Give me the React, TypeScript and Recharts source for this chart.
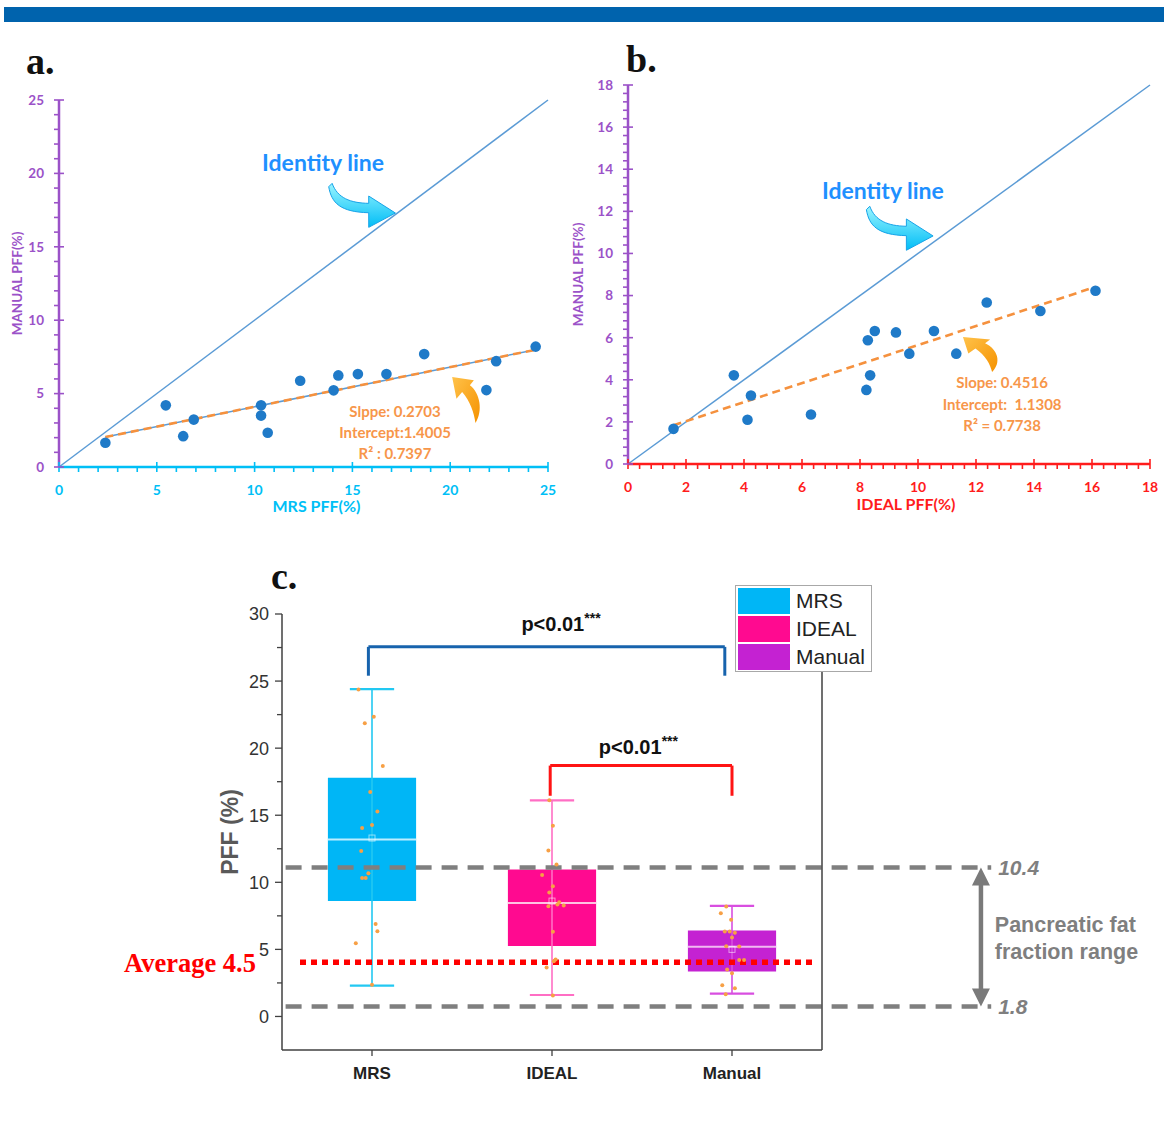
import React from 'react';
import {
  ScatterChart,
  ComposedChart,
  Scatter,
  XAxis,
  YAxis,
  ReferenceLine,
  ReferenceArea,
  ReferenceDot,
} from 'recharts';

// ---------- panels a / b : paired PFF (%) per subject ----------
const mrsPff = [2.37, 5.46, 6.35, 6.89, 10.33, 10.33, 10.67, 12.33, 14.04, 14.28, 15.28, 16.74, 18.67, 21.85, 22.35, 24.37];
const manualVsMrs = [1.65, 4.2, 2.1, 3.23, 4.2, 3.5, 2.33, 5.88, 5.22, 6.24, 6.33, 6.33, 7.69, 5.24, 7.21, 8.2];
const idealPff = [1.57, 3.65, 4.12, 4.24, 6.31, 8.22, 8.27, 8.35, 8.51, 9.24, 9.7, 10.55, 11.32, 12.37, 14.22, 16.12];
const manualVsIdeal = [1.67, 4.21, 2.1, 3.25, 2.35, 3.52, 5.88, 4.21, 6.32, 6.25, 5.24, 6.32, 5.24, 7.67, 7.27, 8.23];

const aMajorTicks = [0, 5, 10, 15, 20, 25];
const bMajorTicks = [0, 2, 4, 6, 8, 10, 12, 14, 16, 18];

const fitA = { slope: 0.2703, intercept: 1.4005 };
const fitB = { slope: 0.4516, intercept: 1.1308 };
const fitTextA = ['Slppe: 0.2703', 'Intercept:1.4005', 'R² : 0.7397'];
const fitTextB = ['Slope: 0.4516', 'Intercept:  1.1308', 'R² = 0.7738'];

// ---------- panel c : box plot ----------
const groups = ['MRS', 'IDEAL', 'Manual'];
const boxMin = [2.3, 1.6, 1.7];
const boxQ1 = [8.6, 5.25, 3.35];
const boxMedian = [13.2, 8.45, 5.2];
const boxQ3 = [17.8, 10.95, 6.4];
const boxMax = [24.4, 16.1, 8.25];
const boxMean = [13.3, 8.6, 5.0];
// horizontal jitter of the raw points (fraction of a category), same order as the value arrays
const jitterMrs = [0, -0.09, 0.03, 0.02, -0.055, -0.035, -0.02, -0.06, -0.055, 0, 0.03, -0.01, 0.06, -0.04, 0.01, -0.075];
const jitterIdeal = [0.005, -0.03, 0.01, 0.02, 0.005, -0.02, 0.065, 0.03, 0.04, -0.015, 0.005, -0.055, 0.025, -0.02, 0.005, -0.015];
const jitterManual = [-0.035, 0.067, 0.016, 0, 0.04, -0.027, -0.054, 0, 0.04, 0.016, -0.04, -0.013, -0.062, -0.032, -0.005, -0.032];
const cMajorTicks = [0, 5, 10, 15, 20, 25, 30];
const rangeLines = [11.1, 0.75];
const rangeLabels = ['10.4', '1.8'];
const averageValue = 4.04;
const bracketLeft = [0.48, 1.49];
const bracketRight = [2.46, 2.5];
const bracketTop = [27.55, 18.7];
const bracketFoot = [25.4, 16.45];

const boxColors = ['#00b6f6', '#ff0a90', '#c422d2'];
const whiskerColors = ['#22c8f2', '#ff6ec4', '#d84ee0'];
const medianColors = ['#bdeeff', '#ffc2e2', '#f2b8f2'];

const LATO = "Lato, 'Open Sans', sans-serif";
const ARIAL = "'Liberation Sans', Arial, sans-serif";
const NARROW = "'Liberation Sans Narrow', 'Liberation Sans', Arial, sans-serif";
const SERIF = "'Liberation Serif', 'Times New Roman', serif";

const withMinor = (majors: number[], parts: number) => {
  const out: number[] = [];
  for (let i = 0; i < majors.length - 1; i++) {
    const step = (majors[i + 1] - majors[i]) / parts;
    for (let k = 0; k < parts; k++) out.push(+(majors[i] + k * step).toFixed(4));
  }
  out.push(majors[majors.length - 1]);
  return out;
};
const isMajor = (v: number, majors: number[]) => majors.some((m) => Math.abs(m - v) < 1e-6);

// ---------- tick renderers ----------
const ScatterYTick = (p: any) => {
  const major = isMajor(p.payload.value, p.majors);
  return (
    <g>
      <line x1={p.x - 5} x2={major ? p.x + 5 : p.x} y1={p.y} y2={p.y} stroke={p.color} strokeWidth={1.6} />
      {major && (
        <text x={p.x - 15} y={p.y} dy="0.36em" textAnchor="end" fill={p.color} fontSize={13.5} fontWeight={700} fontFamily={LATO}>
          {p.payload.value}
        </text>
      )}
    </g>
  );
};

const ScatterXTick = (p: any) => {
  const major = isMajor(p.payload.value, p.majors);
  return (
    <g>
      <line x1={p.x} x2={p.x} y1={major ? p.y - 5 : p.y} y2={p.y + 5} stroke={p.color} strokeWidth={1.6} />
      {major && (
        <text x={p.x} y={p.y + 23} dy="0.36em" textAnchor="middle" fill={p.color} fontSize={14} fontWeight={700} fontFamily={LATO}>
          {p.payload.value}
        </text>
      )}
    </g>
  );
};

const BoxYTick = (p: any) => {
  const major = isMajor(p.payload.value, cMajorTicks);
  return (
    <g>
      <line x1={p.x - (major ? 7 : 5)} x2={p.x} y1={p.y} y2={p.y} stroke="#404040" strokeWidth={1.3} />
      {major && (
        <text x={p.x - 13} y={p.y} dy="0.36em" textAnchor="end" fill="#333" fontSize={18} fontFamily={NARROW}>
          {p.payload.value}
        </text>
      )}
    </g>
  );
};

const BoxRightTick = (p: any) => {
  const major = isMajor(p.payload.value, cMajorTicks);
  return <line x1={p.x - (major ? 7 : 4)} x2={p.x} y1={p.y} y2={p.y} stroke="#404040" strokeWidth={1.3} />;
};

const BoxXTick = (p: any) => (
  <g>
    <line x1={p.x} x2={p.x} y1={p.y} y2={p.y + 6} stroke="#404040" strokeWidth={1.3} />
    <text x={p.x} y={p.y + 23} dy="0.36em" textAnchor="middle" fill="#222" fontSize={17} fontWeight={700} fontFamily={ARIAL}>
      {groups[Math.floor(p.payload.value)]}
    </text>
  </g>
);

// ---------- decorative arrows ----------
const CyanArrow = ({ cx, cy, id }: any) => (
  <g transform={`translate(${cx},${cy})`}>
    <defs>
      <linearGradient id={id} x1="0" y1="0" x2="0" y2="1">
        <stop offset="0" stopColor="#9af5ff" />
        <stop offset="1" stopColor="#00bdf6" />
      </linearGradient>
    </defs>
    <path
      d="M -66.7 -26.3 C -64 -10 -55 -1 -26.7 -0.3 L -26.7 14.3 L 0 0 L -26.7 -17 L -26.7 -9.7 C -45 -10 -58 -15 -63.3 -29.7 Z"
      fill={`url(#${id})`}
      stroke="#17a3e8"
      strokeWidth={1}
    />
  </g>
);

const OrangeArrow = ({ cx, cy, id, sx = 1, sy = 1 }: any) => (
  <g transform={`translate(${cx},${cy}) scale(${sx},${sy})`}>
    <defs>
      <linearGradient id={id} x1="0" y1="0" x2="1" y2="1">
        <stop offset="0" stopColor="#ffc24a" />
        <stop offset="1" stopColor="#f59200" />
      </linearGradient>
    </defs>
    <path d="M 0 0 L 21.7 3.3 L 17.7 8.3 C 28 16 31 34 23.3 46 C 22 36 18 24 10 15 L 4.3 21.7 Z" fill={`url(#${id})`} />
  </g>
);

// ---------- scatter panel (a, b) ----------
type PanelCfg = {
  key: string;
  left: number;
  top: number;
  width: number;
  height: number;
  margin: { top: number; right: number; bottom: number; left: number };
  xAxisHeight: number;
  xs: number[];
  ys: number[];
  xMajors: number[];
  yMajors: number[];
  xColor: string;
  yColor: string;
  xTitle: string;
  yTitle: string;
  xTitleShift: number;
  yTitleOffset: number;
  fit: { slope: number; intercept: number };
  fitText: string[];
  fitTextAt: [number, number];
  fitLineGap: number;
  idTextAt: [number, number];
  idArrowAt: [number, number];
  fitArrowAt: [number, number];
  fitArrowScale: [number, number];
  blueUnderFit: boolean;
};

const ScatterPanel = ({ cfg }: { cfg: PanelCfg }) => {
  const points = cfg.xs.map((x, i) => ({ x, y: cfg.ys[i] }));
  const xLo = Math.min(...cfg.xs);
  const xHi = Math.max(...cfg.xs);
  const fitSeg = [
    { x: xLo, y: cfg.fit.intercept + cfg.fit.slope * xLo },
    { x: xHi, y: cfg.fit.intercept + cfg.fit.slope * xHi },
  ];
  const xMax = cfg.xMajors[cfg.xMajors.length - 1];
  const yMax = cfg.yMajors[cfg.yMajors.length - 1];
  return (
    <div style={{ position: 'absolute', left: cfg.left, top: cfg.top }}>
      <ScatterChart width={cfg.width} height={cfg.height} margin={cfg.margin}>
        <XAxis
          type="number"
          dataKey="x"
          domain={[0, xMax]}
          ticks={withMinor(cfg.xMajors, 5)}
          interval={0}
          tickLine={false}
          tickSize={0}
          tickMargin={0}
          height={cfg.xAxisHeight}
          axisLine={{ stroke: cfg.xColor, strokeWidth: 2.5 }}
          tick={(p: any) => <ScatterXTick {...p} color={cfg.xColor} majors={cfg.xMajors} />}
          label={{
            content: (lp: any) => {
              const vb = lp.viewBox;
              return (
                <text x={vb.x + vb.width / 2 + cfg.xTitleShift} y={vb.y + vb.height} textAnchor="middle" fill={cfg.xColor} fontSize={16} fontWeight={700} fontFamily={LATO}>
                  {cfg.xTitle}
                </text>
              );
            },
          }}
        />
        <YAxis
          type="number"
          dataKey="y"
          domain={[0, yMax]}
          ticks={withMinor(cfg.yMajors, 5)}
          interval={0}
          tickLine={false}
          tickSize={0}
          tickMargin={0}
          width={55}
          axisLine={{ stroke: cfg.yColor, strokeWidth: 2.5 }}
          tick={(p: any) => <ScatterYTick {...p} color={cfg.yColor} majors={cfg.yMajors} />}
          label={{
            content: (lp: any) => {
              const vb = lp.viewBox;
              const cx = vb.x + cfg.yTitleOffset;
              const cy = vb.y + vb.height / 2;
              return (
                <text x={cx} y={cy} dy="0.36em" transform={`rotate(-90 ${cx} ${cy})`} textAnchor="middle" fill={cfg.yColor} fontSize={13.5} fontWeight={700} fontFamily={LATO}>
                  {cfg.yTitle}
                </text>
              );
            },
          }}
        />
        <ReferenceLine segment={[{ x: 0, y: 0 }, { x: xMax, y: yMax }]} stroke="#5b9bd5" strokeWidth={1.5} ifOverflow="visible" />
        {cfg.blueUnderFit && <ReferenceLine segment={fitSeg} stroke="#5b9bd5" strokeWidth={1.5} />}
        <ReferenceLine segment={fitSeg} stroke="#f5913e" strokeWidth={2.6} strokeDasharray="8 5" />
        <Scatter
          data={points}
          isAnimationActive={false}
          shape={(p: any) => <circle cx={p.cx} cy={p.cy} r={5.3} fill="#1f7ac8" />}
        />
        <ReferenceDot
          x={cfg.idTextAt[0]}
          y={cfg.idTextAt[1]}
          r={0}
          ifOverflow="visible"
          shape={(p: any) => (
            <text x={p.cx} y={p.cy} dy="0.36em" textAnchor="middle" fill="#1e90ff" fontSize={23} fontWeight={700} fontFamily={LATO}>
              Identity line
            </text>
          )}
        />
        <ReferenceDot
          x={cfg.idArrowAt[0]}
          y={cfg.idArrowAt[1]}
          r={0}
          ifOverflow="visible"
          shape={(p: any) => <CyanArrow cx={p.cx} cy={p.cy} id={`cyan-${cfg.key}`} />}
        />
        <ReferenceDot
          x={cfg.fitArrowAt[0]}
          y={cfg.fitArrowAt[1]}
          r={0}
          ifOverflow="visible"
          shape={(p: any) => (
            <OrangeArrow cx={p.cx} cy={p.cy} id={`orange-${cfg.key}`} sx={cfg.fitArrowScale[0]} sy={cfg.fitArrowScale[1]} />
          )}
        />
        <ReferenceDot
          x={cfg.fitTextAt[0]}
          y={cfg.fitTextAt[1]}
          r={0}
          ifOverflow="visible"
          shape={(p: any) => (
            <text x={p.cx} y={p.cy} textAnchor="middle" fill="#f7964a" fontSize={15} fontWeight={700} fontFamily={LATO} style={{ whiteSpace: 'pre' }}>
              {cfg.fitText.map((t, i) => (
                <tspan key={t} x={p.cx} y={p.cy + i * cfg.fitLineGap} dy="0.36em">
                  {t}
                </tspan>
              ))}
            </text>
          )}
        />
      </ScatterChart>
    </div>
  );
};

const panelA: PanelCfg = {
  key: 'a',
  left: 0,
  top: 80,
  width: 570,
  height: 440,
  margin: { top: 20, right: 22, bottom: 8, left: 4 },
  xAxisHeight: 45,
  xs: mrsPff,
  ys: manualVsMrs,
  xMajors: aMajorTicks,
  yMajors: aMajorTicks,
  xColor: '#00bff6',
  yColor: '#9b52c8',
  xTitle: 'MRS PFF(%)',
  yTitle: 'MANUAL PFF(%)',
  xTitleShift: 13,
  yTitleOffset: 13,
  fit: fitA,
  fitText: fitTextA,
  fitTextAt: [17.18, 3.75],
  fitLineGap: 21,
  idTextAt: [13.5, 20.7],
  idArrowAt: [17.2, 17.3],
  fitArrowAt: [20.1, 6.13],
  fitArrowScale: [1, 1],
  blueUnderFit: true,
};

const panelB: PanelCfg = {
  key: 'b',
  left: 570,
  top: 70,
  width: 594,
  height: 450,
  margin: { top: 15, right: 14, bottom: 10, left: 3 },
  xAxisHeight: 46,
  xs: idealPff,
  ys: manualVsIdeal,
  xMajors: bMajorTicks,
  yMajors: bMajorTicks,
  xColor: '#ff1c1c',
  yColor: '#9b52c8',
  xTitle: 'IDEAL PFF(%)',
  yTitle: 'MANUAL PFF(%)',
  xTitleShift: 17,
  yTitleOffset: 5,
  fit: fitB,
  fitText: fitTextB,
  fitTextAt: [12.9, 3.85],
  fitLineGap: 21.5,
  idTextAt: [8.79, 13.0],
  idArrowAt: [10.52, 10.83],
  fitArrowAt: [11.55, 6.03],
  fitArrowScale: [1.25, 0.76],
  blueUnderFit: false,
};

// ---------- box plot panel (c) ----------
const BoxPanel = () => {
  const centers = groups.map((_, i) => i + 0.5);
  const jitters = [jitterMrs, jitterIdeal, jitterManual];
  const values = [mrsPff, idealPff, manualVsMrs];
  const rawPoints = values.flatMap((vals, g) => vals.map((v, i) => ({ x: centers[g] + jitters[g][i], y: v })));
  const meanPoints = boxMean.map((m, i) => ({ x: centers[i], y: m }));
  const yTicks = withMinor(cMajorTicks, 2);
  const bracketColors = ['#1763ad', '#ff1414'];
  return (
    <div style={{ position: 'absolute', left: 100, top: 560 }}>
      <ComposedChart width={1064} height={540} margin={{ top: 54, right: 330, bottom: 14, left: 122 }}>
        <XAxis
          type="number"
          dataKey="x"
          domain={[0, 3]}
          ticks={centers}
          interval={0}
          tickLine={false}
          tickSize={0}
          tickMargin={0}
          height={36}
          axisLine={{ stroke: '#404040', strokeWidth: 1.5 }}
          tick={(p: any) => <BoxXTick {...p} />}
        />
        <YAxis
          yAxisId="l"
          type="number"
          dataKey="y"
          domain={[-2.5, 30]}
          ticks={yTicks}
          interval={0}
          tickLine={false}
          tickSize={0}
          tickMargin={0}
          width={60}
          axisLine={{ stroke: '#404040', strokeWidth: 1.5 }}
          tick={(p: any) => <BoxYTick {...p} />}
          label={{
            content: (lp: any) => {
              const vb = lp.viewBox;
              const cx = vb.x + 8;
              const cy = vb.y + vb.height / 2;
              return (
                <text x={cx} y={cy} dy="0.36em" transform={`rotate(-90 ${cx} ${cy})`} textAnchor="middle" fill="#595959" fontSize={23} fontWeight={700} fontFamily={ARIAL}>
                  PFF (%)
                </text>
              );
            },
          }}
        />
        <YAxis
          yAxisId="r"
          orientation="right"
          type="number"
          domain={[-2.5, 30]}
          ticks={yTicks}
          interval={0}
          tickLine={false}
          tickSize={0}
          tickMargin={0}
          width={12}
          axisLine={{ stroke: '#404040', strokeWidth: 1.5 }}
          tick={(p: any) => <BoxRightTick {...p} />}
        />

        {groups.map((g, i) => (
          <ReferenceLine
            key={`wh-${g}`}
            yAxisId="l"
            segment={[{ x: centers[i], y: boxMin[i] }, { x: centers[i], y: boxMax[i] }]}
            stroke={whiskerColors[i]}
            strokeWidth={1.6}
          />
        ))}
        {groups.map((g, i) => (
          <ReferenceLine
            key={`capt-${g}`}
            yAxisId="l"
            segment={[{ x: centers[i] - 0.123, y: boxMax[i] }, { x: centers[i] + 0.123, y: boxMax[i] }]}
            stroke={whiskerColors[i]}
            strokeWidth={2.2}
          />
        ))}
        {groups.map((g, i) => (
          <ReferenceLine
            key={`capb-${g}`}
            yAxisId="l"
            segment={[{ x: centers[i] - 0.123, y: boxMin[i] }, { x: centers[i] + 0.123, y: boxMin[i] }]}
            stroke={whiskerColors[i]}
            strokeWidth={2.2}
          />
        ))}
        {groups.map((g, i) => (
          <ReferenceArea
            key={`box-${g}`}
            yAxisId="l"
            x1={centers[i] - 0.245}
            x2={centers[i] + 0.245}
            y1={boxQ1[i]}
            y2={boxQ3[i]}
            fill={boxColors[i]}
            fillOpacity={1}
            stroke="none"
          />
        ))}
        {groups.map((g, i) => (
          <ReferenceLine
            key={`med-${g}`}
            yAxisId="l"
            segment={[{ x: centers[i] - 0.245, y: boxMedian[i] }, { x: centers[i] + 0.245, y: boxMedian[i] }]}
            stroke={medianColors[i]}
            strokeWidth={2}
          />
        ))}
        <Scatter
          yAxisId="l"
          data={meanPoints}
          isAnimationActive={false}
          shape={(p: any) => <rect x={p.cx - 3} y={p.cy - 3} width={6} height={6} fill="none" stroke="rgba(255,255,255,0.55)" strokeWidth={1} />}
        />
        <Scatter
          yAxisId="l"
          data={rawPoints}
          isAnimationActive={false}
          shape={(p: any) => <circle cx={p.cx} cy={p.cy} r={2} fill="#f7a045" />}
        />

        {rangeLines.map((v, i) => (
          <ReferenceLine
            key={`range-${i}`}
            yAxisId="l"
            segment={[{ x: 0.02, y: v }, { x: 3.94, y: v }]}
            ifOverflow="visible"
            stroke="#7f7f7f"
            strokeWidth={4.5}
            strokeDasharray="16 10"
            label={{
              value: rangeLabels[i],
              position: 'right',
              offset: 7,
              fill: '#7f7f7f',
              fontSize: 21,
              fontWeight: 700,
              fontStyle: 'italic',
              fontFamily: ARIAL,
            }}
          />
        ))}
        <ReferenceLine
          yAxisId="l"
          segment={[{ x: 0.1, y: averageValue }, { x: 2.97, y: averageValue }]}
          stroke="#ff0000"
          strokeWidth={5.5}
          strokeDasharray="6 5"
          label={{
            value: 'Average 4.5',
            position: 'left',
            offset: 44,
            fill: '#ff0000',
            fontSize: 26.5,
            fontWeight: 700,
            fontFamily: SERIF,
          }}
        />
        <ReferenceLine
          yAxisId="l"
          segment={[{ x: 3.883, y: rangeLines[0] }, { x: 3.883, y: rangeLines[1] }]}
          ifOverflow="visible"
          shape={(p: any) => {
            const top = Math.min(p.y1, p.y2);
            const bot = Math.max(p.y1, p.y2);
            const x = p.x1;
            return (
              <g fill="#7a7a7a">
                <line x1={x} x2={x} y1={top + 14} y2={bot - 14} stroke="#7a7a7a" strokeWidth={4.5} />
                <polygon points={`${x},${top} ${x - 9},${top + 18} ${x + 9},${top + 18}`} />
                <polygon points={`${x},${bot} ${x - 9},${bot - 18} ${x + 9},${bot - 18}`} />
              </g>
            );
          }}
        />

        {bracketTop.map((t, i) => (
          <ReferenceLine key={`bl-${i}`} yAxisId="l" segment={[{ x: bracketLeft[i], y: bracketFoot[i] }, { x: bracketLeft[i], y: t }]} stroke={bracketColors[i]} strokeWidth={3} />
        ))}
        {bracketTop.map((t, i) => (
          <ReferenceLine key={`bt-${i}`} yAxisId="l" segment={[{ x: bracketLeft[i], y: t }, { x: bracketRight[i], y: t }]} stroke={bracketColors[i]} strokeWidth={3} />
        ))}
        {bracketTop.map((t, i) => (
          <ReferenceLine key={`br-${i}`} yAxisId="l" segment={[{ x: bracketRight[i], y: t }, { x: bracketRight[i], y: bracketFoot[i] }]} stroke={bracketColors[i]} strokeWidth={3} />
        ))}
        {[
          [1.55, 29.25],
          [1.98, 20.07],
        ].map(([x, y], i) => (
          <ReferenceDot
            key={`p-${i}`}
            yAxisId="l"
            x={x}
            y={y}
            r={0}
            ifOverflow="visible"
            shape={(p: any) => (
              <text x={p.cx} y={p.cy} dy="0.36em" textAnchor="middle" fill="#111" fontSize={20} fontWeight={700} fontFamily={NARROW}>
                p&lt;0.01
                <tspan dy={-8} fontSize={14}>
                  ***
                </tspan>
              </text>
            )}
          />
        ))}
        <ReferenceDot
          yAxisId="l"
          x={3.96}
          y={6.87}
          r={0}
          ifOverflow="visible"
          shape={(p: any) => (
            <text x={p.cx} y={p.cy} fill="#7f7f7f" fontSize={21.5} fontWeight={700} fontFamily={ARIAL}>
              <tspan x={p.cx} dy="0.36em">Pancreatic fat</tspan>
              <tspan x={p.cx} dy={27}>fraction range</tspan>
            </text>
          )}
        />
      </ComposedChart>
    </div>
  );
};

const Legend = () => (
  <div
    style={{
      position: 'absolute',
      left: 735,
      top: 585,
      width: 135,
      height: 85,
      border: '1px solid #a8a8a8',
      background: '#fff',
      fontFamily: ARIAL,
    }}
  >
    {groups.map((g, i) => (
      <div key={g} style={{ position: 'absolute', left: 2, top: 2 + i * 28, height: 26, display: 'flex', alignItems: 'center' }}>
        <div style={{ width: 52, height: 26, background: boxColors[i] }} />
        <span style={{ marginLeft: 6, fontSize: 21, color: '#222' }}>{g}</span>
      </div>
    ))}
  </div>
);

const PanelTag = ({ text, left, top }: { text: string; left: number; top: number }) => (
  <div style={{ position: 'absolute', left, top, fontFamily: SERIF, fontWeight: 700, fontSize: 38, lineHeight: '38px', color: '#111' }}>
    {text}
  </div>
);

export default function App() {
  return (
    <div style={{ position: 'absolute', left: 0, top: 0, width: 1164, height: 1127, background: '#fff', overflow: 'hidden' }}>
      <div style={{ position: 'absolute', left: 4, top: 7, width: 1160, height: 15, background: '#0063ad' }} />
      <ScatterPanel cfg={panelA} />
      <ScatterPanel cfg={panelB} />
      <BoxPanel />
      <Legend />
      <PanelTag text="a." left={26} top={42} />
      <PanelTag text="b." left={626} top={40} />
      <PanelTag text="c." left={271} top={557} />
    </div>
  );
}
